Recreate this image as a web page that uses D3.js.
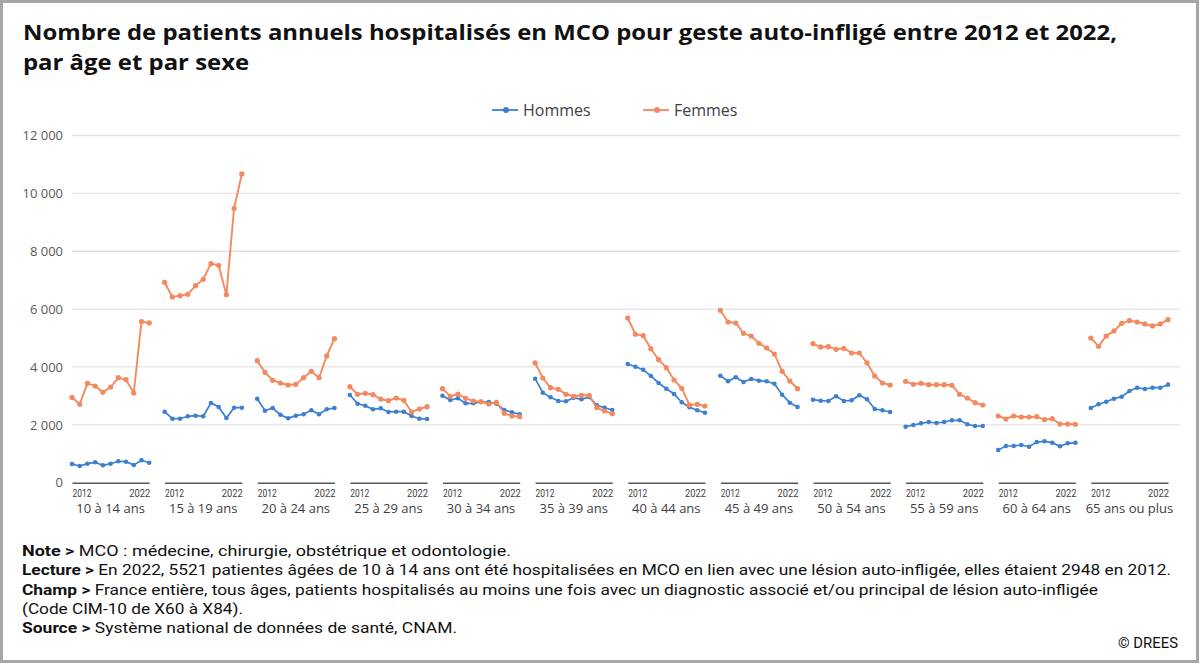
<!DOCTYPE html>
<html><head><meta charset="utf-8">
<script src="https://cdn.jsdelivr.net/npm/d3@7/dist/d3.min.js"></script>
<style>
html,body{margin:0;padding:0;background:#fff;}
svg{display:block;}
</style></head>
<body>
<svg id="chart" width="1200" height="664"></svg>
<script>
const categories = ["10 à 14 ans","15 à 19 ans","20 à 24 ans","25 à 29 ans","30 à 34 ans","35 à 39 ans","40 à 44 ans","45 à 49 ans","50 à 54 ans","55 à 59 ans","60 à 64 ans","65 ans ou plus"];
const years = [2012,2013,2014,2015,2016,2017,2018,2019,2020,2021,2022];
const yearTickLabels = ["2012","2022"];
const yTicks = [0,2000,4000,6000,8000,10000,12000];

const hommes = [
  [646,577,657,705,601,657,740,726,612,774,691],
  [2454,2212,2212,2295,2316,2295,2755,2617,2236,2592,2592],
  [2904,2489,2582,2350,2226,2316,2364,2503,2364,2537,2582],
  [3031,2731,2662,2537,2572,2444,2454,2454,2306,2212,2202],
  [3007,2859,2917,2745,2745,2790,2790,2731,2513,2433,2364],
  [3595,3111,2952,2824,2814,2938,2883,2962,2675,2592,2513],
  [4103,4010,3906,3688,3446,3249,3066,2779,2606,2503,2420],
  [3699,3505,3643,3481,3584,3526,3505,3422,3042,2765,2617],
  [2869,2834,2824,2987,2824,2848,3021,2883,2548,2503,2444],
  [1936,1994,2053,2098,2064,2098,2157,2157,2019,1960,1960],
  [1130,1269,1269,1303,1244,1407,1431,1383,1258,1362,1383],
  [2582,2710,2800,2904,2973,3170,3284,3239,3284,3284,3388]
];
const femmes = [
  [2948,2710,3436,3343,3125,3308,3629,3560,3101,5565,5521],
  [6927,6419,6464,6512,6810,7031,7570,7515,6499,9485,10671],
  [4217,3816,3540,3446,3377,3401,3629,3851,3629,4380,4978],
  [3318,3056,3090,3042,2893,2834,2928,2848,2444,2548,2627],
  [3249,2987,3066,2917,2824,2800,2720,2779,2399,2306,2281],
  [4138,3619,3284,3228,3056,2987,3021,3021,2592,2478,2385],
  [5693,5130,5081,4632,4252,3975,3550,3263,2686,2710,2651],
  [5959,5555,5520,5164,5071,4819,4656,4449,3851,3515,3249],
  [4805,4691,4701,4611,4646,4483,4483,4138,3688,3446,3377],
  [3505,3401,3436,3387,3387,3387,3367,3056,2928,2765,2686],
  [2306,2202,2306,2271,2271,2281,2178,2212,2029,2029,2019],
  [5002,4715,5071,5244,5510,5600,5555,5486,5417,5486,5634]
];
const seriesNames = ["Hommes","Femmes"];
const colors = {Hommes:"#3d7fd0", Femmes:"#f4895f"};

const svg = d3.select("#chart");
// frame
svg.append("rect").attr("x",1.5).attr("y",1.5).attr("width",1196).attr("height",660)
  .attr("fill","#fff").attr("stroke","#a6a6a6").attr("stroke-width",3);

// title
const titleFont = "'Open Sans', 'Noto Sans', sans-serif";
const tfs = 21;
const t1 = svg.append("text").attr("x",23).attr("y",40).attr("font-family",titleFont)
  .attr("font-weight",700).attr("font-size",tfs).attr("fill","#111")
  .text("Nombre de patients annuels hospitalisés en MCO pour geste auto-infligé entre 2012 et 2022,");
const t2 = svg.append("text").attr("x",23).attr("y",70).attr("font-family",titleFont)
  .attr("font-weight",700).attr("font-size",tfs).attr("fill","#111")
  .text("par âge et par sexe");
{
  const len1 = t1.node().getComputedTextLength();
  const len2 = t2.node().getComputedTextLength();
  const ratio = 1094/len1;
  t1.attr("textLength",1094).attr("lengthAdjust","spacingAndGlyphs");
  t2.attr("textLength",len2*ratio).attr("lengthAdjust","spacingAndGlyphs");
}

// scales
const plotLeft = 72, groupStep = 92.62;
const x0 = d3.scaleBand().domain(categories).range([plotLeft, plotLeft+groupStep*categories.length]).paddingInner(0).paddingOuter(0);
const xi = d3.scalePoint().domain(years).range([0, 77.2]);
const y = d3.scaleLinear().domain([0,12000]).range([482.7, 135.5]);

// gridlines
svg.append("g").selectAll("line").data(yTicks.filter(d=>d>0)).join("line")
  .attr("x1",72).attr("x2",1180).attr("y1",d=>y(d)).attr("y2",d=>y(d))
  .attr("stroke","#e3e3e3").attr("stroke-width",1.3);

// y axis labels
const yAxis = d3.axisLeft(y).tickValues(yTicks).tickSize(0).tickPadding(0)
  .tickFormat(d=>d3.format(",")(d).replace(/,/g," "));
const gy = svg.append("g").attr("transform","translate(63,0)").call(yAxis);
gy.select(".domain").remove();
gy.selectAll("text").attr("font-family","'Open Sans', sans-serif").attr("font-size",13).attr("fill","#595959");

// group axes
const axisFont = "'Roboto', 'Open Sans', sans-serif";
categories.forEach((c,g)=>{
  const gx = x0(c);
  const grp = svg.append("g").attr("transform",`translate(${gx},0)`);
  const ax = d3.axisBottom(xi).tickValues([]).tickSizeOuter(0);
  const ga = grp.append("g").attr("transform",`translate(0,${y(0)})`).call(ax);
  ga.select(".domain").attr("stroke","#595959").attr("stroke-width",1.6);
  grp.append("text").attr("x",xi(2012)+0.5).attr("y",496.5).attr("font-family",axisFont)
    .attr("font-size",11.5).attr("fill","#404040").attr("textLength",19).attr("lengthAdjust","spacingAndGlyphs")
    .text(yearTickLabels[0]);
  grp.append("text").attr("x",xi(2022)+1-21).attr("y",496.5).attr("font-family",axisFont)
    .attr("font-size",11.5).attr("fill","#404040").attr("textLength",21).attr("lengthAdjust","spacingAndGlyphs")
    .text(yearTickLabels[1]);
  grp.append("text").attr("x",xi.range()[1]/2).attr("y",513).attr("text-anchor","middle")
    .attr("font-family","'Open Sans', sans-serif").attr("font-size",13).attr("fill","#404040")
    .text(c);

  [["Hommes",hommes[g]],["Femmes",femmes[g]]].forEach(([name,vals])=>{
    const pts = years.map((yr,i)=>[xi(yr), y(vals[i])]);
    grp.append("path").attr("d",d3.line()(pts)).attr("fill","none")
      .attr("stroke",colors[name]).attr("stroke-width",name==="Femmes"?1.9:1.7);
    grp.append("g").selectAll("circle").data(pts).join("circle")
      .attr("cx",d=>d[0]).attr("cy",d=>d[1]).attr("r",name==="Femmes"?2.6:2.3)
      .attr("fill",colors[name]);
  });
});

// legend
const legItems = [{name:"Hommes",x:492},{name:"Femmes",x:643}];
legItems.forEach(l=>{
  const gl = svg.append("g").attr("transform",`translate(${l.x},110)`);
  gl.append("line").attr("x1",0).attr("x2",26).attr("stroke",colors[l.name]).attr("stroke-width",1.8);
  gl.append("circle").attr("cx",14).attr("r",3).attr("fill",colors[l.name]);
  gl.append("text").attr("x",31).attr("y",5.5).attr("font-family","'Open Sans', sans-serif")
    .attr("font-size",16).attr("fill","#404040").text(l.name);
});

// notes
const noteFont = "'Roboto', 'Noto Sans', sans-serif";
const notes = [
  {b:"Note >", t:" MCO : médecine, chirurgie, obstétrique et odontologie.", y:556, w:489},
  {b:"Lecture >", t:" En 2022, 5521 patientes âgées de 10 à 14 ans ont été hospitalisées en MCO en lien avec une lésion auto-infligée, elles étaient 2948 en 2012.", y:575, w:1149},
  {b:"Champ >", t:" France entière, tous âges, patients hospitalisés au moins une fois avec un diagnostic associé et/ou principal de lésion auto-infligée", y:595, w:1076},
  {b:"", t:"(Code CIM-10 de X60 à X84).", y:614, w:221},
  {b:"Source >", t:" Système national de données de santé, CNAM.", y:633, w:435}
];
notes.forEach(n=>{
  const tx = svg.append("text").attr("x",22).attr("y",n.y).attr("font-family",noteFont)
    .attr("font-size",15.5).attr("fill","#111");
  if(n.b) tx.append("tspan").attr("font-weight",700).text(n.b);
  tx.append("tspan").text(n.t);
  tx.attr("textLength",n.w).attr("lengthAdjust","spacingAndGlyphs");
});
svg.append("text").attr("x",1178).attr("y",648).attr("text-anchor","end")
  .attr("font-family",noteFont).attr("font-size",15).attr("fill","#111")
  .attr("textLength",60).attr("lengthAdjust","spacingAndGlyphs").text("© DREES");
</script>
</body></html>
